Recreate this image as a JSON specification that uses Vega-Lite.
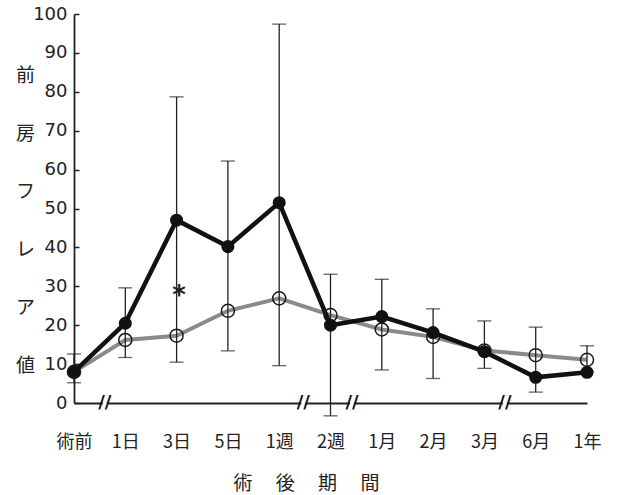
{
  "$schema": "https://vega.github.io/schema/vega-lite/v6.json",
  "width": 513,
  "height": 389,
  "autosize": "none",
  "padding": {"left": 74, "top": 14, "right": 31, "bottom": 92},
  "background": "white",
  "config": {"view": {"stroke": null}, "font": "DejaVu Sans"},
  "datasets": {
    "series": [
      {"t": 0, "group": "A", "value": 8.0},
      {"t": 1, "group": "A", "value": 20.5},
      {"t": 2, "group": "A", "value": 47.0},
      {"t": 3, "group": "A", "value": 40.2},
      {"t": 4, "group": "A", "value": 51.5},
      {"t": 5, "group": "A", "value": 20.0},
      {"t": 6, "group": "A", "value": 22.2},
      {"t": 7, "group": "A", "value": 18.1},
      {"t": 8, "group": "A", "value": 13.2},
      {"t": 9, "group": "A", "value": 6.6},
      {"t": 10, "group": "A", "value": 7.9},
      {"t": 0, "group": "B", "value": 8.0},
      {"t": 1, "group": "B", "value": 16.2},
      {"t": 2, "group": "B", "value": 17.3},
      {"t": 3, "group": "B", "value": 23.7},
      {"t": 4, "group": "B", "value": 26.9},
      {"t": 5, "group": "B", "value": 22.6},
      {"t": 6, "group": "B", "value": 18.9},
      {"t": 7, "group": "B", "value": 17.0},
      {"t": 8, "group": "B", "value": 13.5},
      {"t": 9, "group": "B", "value": 12.3},
      {"t": 10, "group": "B", "value": 11.1}
    ],
    "err": [
      {"t": 0, "lo": 5.2, "hi": 12.6},
      {"t": 1, "lo": 11.7, "hi": 29.6},
      {"t": 2, "lo": 10.5, "hi": 78.7},
      {"t": 3, "lo": 13.4, "hi": 62.2},
      {"t": 4, "lo": 9.6, "hi": 97.4},
      {"t": 5, "lo": -3.3, "hi": 33.1},
      {"t": 6, "lo": 8.5, "hi": 31.8},
      {"t": 7, "lo": 6.3, "hi": 24.2},
      {"t": 8, "lo": 8.9, "hi": 21.1},
      {"t": 9, "lo": 2.8, "hi": 19.5},
      {"t": 10, "lo": 8.0, "hi": 14.7}
    ],
    "breaks": [
      {"t": 0.6, "y": 0, "a": 0.56, "b": 0.64},
      {"t": 4.47, "y": 0, "a": 4.43, "b": 4.51},
      {"t": 5.42, "y": 0, "a": 5.38, "b": 5.46},
      {"t": 8.4, "y": 0, "a": 8.36, "b": 8.44}
    ],
    "notes": [
      {"t": 2.05, "y": 27.5, "label": "*"}
    ]
  },
  "layer": [
    {
      "data": {"name": "series"},
      "transform": [{"filter": "datum.group === 'B'"}],
      "mark": {"type": "line", "color": "#8a8a8a", "strokeWidth": 4},
      "encoding": {
        "x": {
          "field": "t", "type": "quantitative",
          "scale": {"domain": [0, 10], "nice": false, "zero": false},
          "axis": {
            "title": "術　 後　 期　 間",
            "values": [0, 1, 2, 3, 4, 5, 6, 7, 8, 9, 10],
            "labelExpr": "['術前','1日','3日','5日','1週','2週','1月','2月','3月','6月','1年'][datum.value]",
            "labelFont": "Noto Sans CJK JP",
            "labelFontSize": 18,
            "labelColor": "#222",
            "labelPadding": 30,
            "labelFlush": false,
            "labelOverlap": false,
            "ticks": false,
            "grid": false,
            "domainColor": "#222",
            "domainWidth": 1.8,
            "titleFont": "Noto Sans CJK JP",
            "titleFontSize": 19,
            "titleFontWeight": "normal",
            "titleColor": "#222",
            "titlePadding": 23,
            "titleX": 232
          }
        },
        "y": {
          "field": "value", "type": "quantitative",
          "scale": {"domain": [0, 100], "nice": false},
          "axis": {
            "title": ["前", "房", "フ", "レ", "ア", "値"],
            "titleAngle": 0,
            "titleFont": "Noto Sans CJK JP",
            "titleFontSize": 19,
            "titleFontWeight": "normal",
            "titleColor": "#222",
            "titleLineHeight": 58,
            "titleX": -49,
            "titleY": 61,
            "titleAlign": "center",
            "titleBaseline": "middle",
            "values": [0, 10, 20, 30, 40, 50, 60, 70, 80, 90, 100],
            "tickCount": 11,
            "labelOverlap": false,
            "labelFontSize": 18,
            "labelColor": "#222",
            "labelPadding": 12,
            "ticks": true,
            "tickSize": -5,
            "tickWidth": 1.5,
            "tickColor": "#222",
            "domainColor": "#222",
            "domainWidth": 1.8,
            "grid": false
          }
        }
      }
    },
    {
      "data": {"name": "err"},
      "mark": {"type": "rule", "color": "#222", "strokeWidth": 1.3},
      "encoding": {
        "x": {"field": "t", "type": "quantitative"},
        "y": {"field": "lo", "type": "quantitative"},
        "y2": {"field": "hi"}
      }
    },
    {
      "data": {"name": "err"},
      "mark": {"type": "tick", "orient": "horizontal", "color": "#222", "thickness": 1.3, "size": 14},
      "encoding": {
        "x": {"field": "t", "type": "quantitative"},
        "y": {"field": "lo", "type": "quantitative"}
      }
    },
    {
      "data": {"name": "err"},
      "mark": {"type": "tick", "orient": "horizontal", "color": "#222", "thickness": 1.3, "size": 14},
      "encoding": {
        "x": {"field": "t", "type": "quantitative"},
        "y": {"field": "hi", "type": "quantitative"}
      }
    },
    {
      "data": {"name": "series"},
      "transform": [{"filter": "datum.group === 'B'"}],
      "mark": {"type": "point", "shape": "circle", "filled": false, "stroke": "#1a1a1a", "strokeWidth": 1.5, "size": 170, "opacity": 1},
      "encoding": {
        "x": {"field": "t", "type": "quantitative"},
        "y": {"field": "value", "type": "quantitative"}
      }
    },
    {
      "data": {"name": "series"},
      "transform": [{"filter": "datum.group === 'A'"}],
      "mark": {"type": "line", "color": "#111", "strokeWidth": 4.5},
      "encoding": {
        "x": {"field": "t", "type": "quantitative"},
        "y": {"field": "value", "type": "quantitative"}
      }
    },
    {
      "data": {"name": "series"},
      "transform": [{"filter": "datum.group === 'A'"}],
      "mark": {"type": "point", "shape": "circle", "filled": true, "color": "#111", "size": 170, "opacity": 1},
      "encoding": {
        "x": {"field": "t", "type": "quantitative"},
        "y": {"field": "value", "type": "quantitative"}
      }
    },
    {
      "data": {"name": "notes"},
      "mark": {"type": "text", "fontSize": 26, "fontWeight": "bold", "font": "DejaVu Sans", "color": "#222", "baseline": "middle", "align": "center"},
      "encoding": {
        "x": {"field": "t", "type": "quantitative"},
        "y": {"field": "y", "type": "quantitative"},
        "text": {"field": "label"}
      }
    },
    {
      "data": {"name": "breaks"},
      "mark": {"type": "rule", "color": "white", "strokeWidth": 4},
      "encoding": {
        "x": {"field": "a", "type": "quantitative"},
        "x2": {"field": "b"},
        "y": {"field": "y", "type": "quantitative"}
      }
    },
    {
      "data": {"name": "breaks"},
      "mark": {"type": "text", "fontSize": 18, "fontWeight": "bold", "font": "DejaVu Sans", "color": "#111", "baseline": "middle", "align": "center"},
      "encoding": {
        "x": {"field": "t", "type": "quantitative"},
        "y": {"field": "y", "type": "quantitative"},
        "text": {"value": "//"}
      }
    }
  ]
}
